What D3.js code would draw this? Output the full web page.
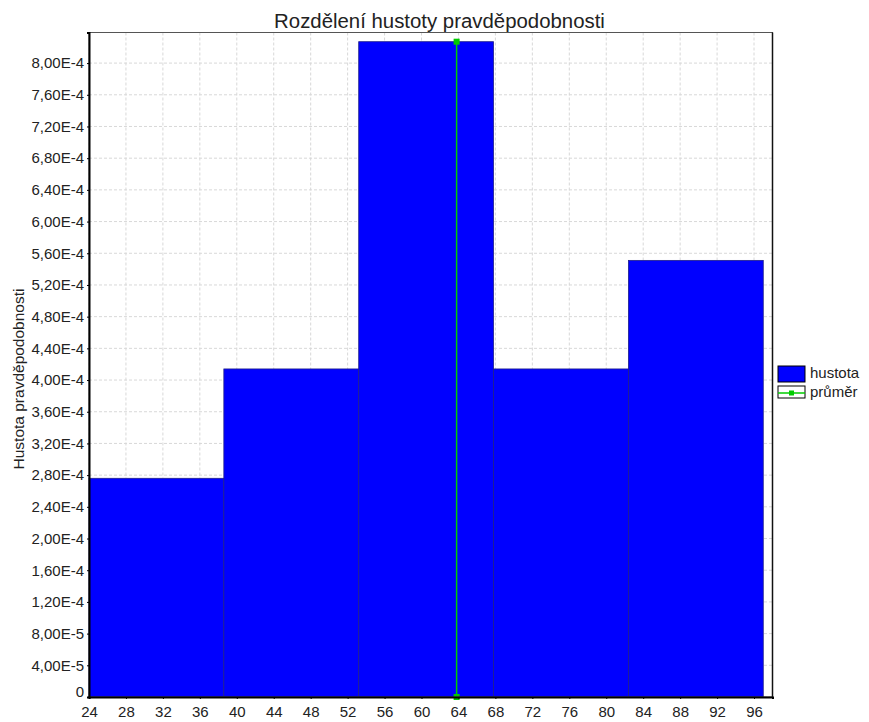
<!DOCTYPE html>
<html><head><meta charset="utf-8">
<script src="https://cdn.jsdelivr.net/npm/d3@7"></script>
<style>body{margin:0;background:#fff}svg{display:block}text{font-family:"Liberation Sans",Arial,sans-serif}</style>
</head><body><svg id="c" width="869" height="722"></svg>
<script>
const binEdges = [24, 38.6, 53.2, 67.8, 82.4, 97];
const densities = [2.76e-4, 4.14e-4, 8.27e-4, 4.14e-4, 5.51e-4];
const meanValue = 63.8;
const xTicks = [24,28,32,36,40,44,48,52,56,60,64,68,72,76,80,84,88,92,96];
const yTicks = [0,4e-5,8e-5,1.2e-4,1.6e-4,2.0e-4,2.4e-4,2.8e-4,3.2e-4,3.6e-4,4.0e-4,4.4e-4,4.8e-4,5.2e-4,5.6e-4,6.0e-4,6.4e-4,6.8e-4,7.2e-4,7.6e-4,8.0e-4];
const titleText = "Rozdělení hustoty pravděpodobnosti";
const yTitle = "Hustota pravděpodobnosti";
const legendLabels = ["hustota", "průměr"];

const L=89, R=772.5, T=32.5, B=697;
const svg = d3.select("#c");
const x = d3.scaleLinear().domain([24, 98.0]).range([L, R]);
const y = d3.scaleLinear().domain([0, 8.386e-4]).range([B, T]);

function fmt(v){
  if (v===0) return "0";
  return v.toExponential(2).replace(".", ",").replace("e-", "E-");
}

// grid
const g = svg.append("g");
g.selectAll(".vg").data(xTicks).join("line")
  .attr("x1",d=>x(d)).attr("x2",d=>x(d)).attr("y1",T).attr("y2",B)
  .attr("stroke","#d8d8d8").attr("stroke-width",1).attr("stroke-dasharray","3,2");
g.selectAll(".hg").data(yTicks).join("line")
  .attr("x1",L).attr("x2",R).attr("y1",d=>y(d)).attr("y2",d=>y(d))
  .attr("stroke","#d8d8d8").attr("stroke-width",1).attr("stroke-dasharray","3,2");

// bars
svg.append("g").selectAll("rect").data(densities).join("rect")
  .attr("x",(d,i)=>x(binEdges[i])).attr("width",(d,i)=>x(binEdges[i+1])-x(binEdges[i]))
  .attr("y",d=>y(d)).attr("height",d=>B-y(d))
  .attr("fill","#0000ff").attr("stroke","#20208a").attr("stroke-width",0.8);

// mean line
const maxD = d3.max(densities);
svg.append("line").attr("x1",x(meanValue)).attr("x2",x(meanValue)).attr("y1",y(0)).attr("y2",y(maxD))
  .attr("stroke","#00cc00").attr("stroke-width",1.5);
svg.selectAll(".mk").data([0,maxD]).join("rect")
  .attr("x",x(meanValue)-3).attr("y",d=>y(d)-3).attr("width",6).attr("height",6)
  .attr("fill","#00cc00");

// outline
svg.append("rect").attr("x",L).attr("y",T).attr("width",R-L).attr("height",B-T)
  .attr("fill","none").attr("stroke","#555").attr("stroke-width",1);
// axes
const xAxis = svg.append("g").attr("transform",`translate(0,${B})`)
  .call(d3.axisBottom(x).tickValues(xTicks).tickSize(2).tickPadding(7).tickFormat(d3.format("d")));
const yAxis = svg.append("g").attr("transform",`translate(${L},0)`)
  .call(d3.axisLeft(y).tickValues(yTicks).tickSize(2).tickPadding(3).tickFormat(fmt));
[xAxis,yAxis].forEach(a=>{
  a.select(".domain").attr("stroke","#000").attr("stroke-width",2);
  a.selectAll("text").attr("font-size",15).attr("fill","#222");
});
yAxis.selectAll(".tick").filter(d=>d===0).select("text").attr("dy","-0.05em");
svg.append("line").attr("x1",R).attr("x2",R).attr("y1",T).attr("y2",B).attr("stroke","#111").attr("stroke-width",1.5);

// titles
const tt = svg.append("text").attr("x",439.5).attr("y",28).attr("text-anchor","middle")
  .attr("font-size",19).attr("fill","#222").text(titleText);
const w = tt.node().getComputedTextLength();
tt.attr("font-size", 19*331/w);
svg.append("text").attr("transform",`translate(24,379) rotate(-90)`).attr("text-anchor","middle")
  .attr("font-size",15.5).attr("fill","#222").text(yTitle);

// legend
const lg = svg.append("g").attr("transform","translate(776,363)");
lg.append("rect").attr("x",2).attr("y",3).attr("width",27).attr("height",16)
  .attr("fill","#0000ff").attr("stroke","#000").attr("stroke-width",1);
lg.append("rect").attr("x",2).attr("y",23).attr("width",27).attr("height",12)
  .attr("fill","#fff").attr("stroke","#000").attr("stroke-width",1);
lg.append("line").attr("x1",2).attr("x2",29).attr("y1",30).attr("y2",30).attr("stroke","#00cc00").attr("stroke-width",1.5);
lg.append("rect").attr("x",13).attr("y",27.5).attr("width",5).attr("height",5).attr("fill","#00cc00");
lg.selectAll(".lt").data(legendLabels).join("text")
  .attr("x",34).attr("y",(d,i)=>i===0?15:34).attr("font-size",15).attr("fill","#222").text(d=>d);
</script></body></html>
